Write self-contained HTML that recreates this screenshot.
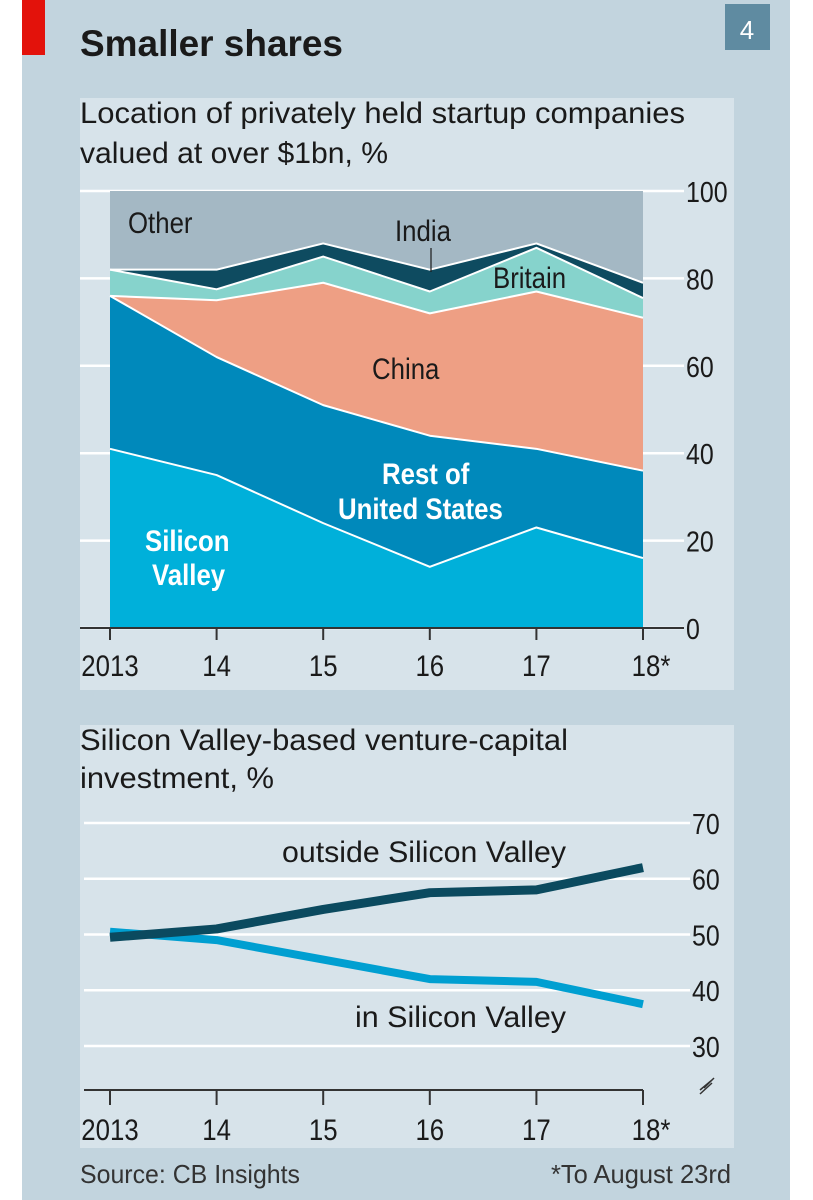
<!DOCTYPE html>
<html><head><meta charset="utf-8"><style>
html,body{margin:0;padding:0;background:#fff;}
svg{display:block;font-family:"Liberation Sans",sans-serif;}
</style></head><body>
<svg id="chart" width="813" height="1200" viewBox="0 0 813 1200">
<rect x="22" y="0" width="768" height="1200" fill="#c2d4de"/>
<rect x="22" y="0" width="23" height="55" fill="#e3120b"/>
<text x="80" y="56" font-size="37" font-weight="bold" fill="#1a1a1a" textLength="263" lengthAdjust="spacingAndGlyphs">Smaller shares</text>
<rect x="725" y="4" width="45" height="46" fill="#5f8ba1"/>
<text x="747" y="39" font-size="26" fill="#fff" text-anchor="middle">4</text>
<rect x="80" y="98" width="654" height="592" fill="#d7e3ea"/>
<text x="80" y="123" font-size="30" fill="#1a1a1a" textLength="605" lengthAdjust="spacingAndGlyphs">Location of privately held startup companies</text>
<text x="80" y="163" font-size="30" fill="#1a1a1a" textLength="308" lengthAdjust="spacingAndGlyphs">valued at over $1bn, %</text>
<g id="topchart"></g>
<rect x="80" y="725" width="654" height="423" fill="#d7e3ea"/>
<text x="80" y="750" font-size="30" fill="#1a1a1a" textLength="488" lengthAdjust="spacingAndGlyphs">Silicon Valley-based venture-capital</text>
<text x="80" y="788" font-size="30" fill="#1a1a1a" textLength="194" lengthAdjust="spacingAndGlyphs">investment, %</text>
<g id="botchart"></g>
<text x="80" y="1183" font-size="26" fill="#333" textLength="220" lengthAdjust="spacingAndGlyphs">Source: CB Insights</text>
<text x="731" y="1183" font-size="26" fill="#333" text-anchor="end" textLength="180" lengthAdjust="spacingAndGlyphs">*To August 23rd</text>
</svg>
<script>
const years = ["2013","14","15","16","17","18*"];
const siliconValley = [41, 35, 24, 14, 23, 16];
const restOfUS = [35, 27, 27, 30, 18, 20];
const china = [0, 13, 28, 28, 36, 35];
const britain = [6, 2.5, 6, 5, 10, 4.5];
const india = [0, 4.5, 3, 5, 1, 3.5];
const topTicks = [0, 20, 40, 60, 80, 100];
const outsideSV = [49.5, 51, 54.5, 57.5, 58, 62];
const inSV = [50.5, 49, 45.5, 42, 41.5, 37.5];
const bottomTicks = [30, 40, 50, 60, 70];

const NS = "http://www.w3.org/2000/svg";
function mk(tag, attrs, parent, text){
  const e = document.createElementNS(NS, tag);
  for (const k in attrs) e.setAttribute(k, attrs[k]);
  if (text !== undefined) e.textContent = text;
  parent.appendChild(e);
  return e;
}
const xs = i => 110 + i * (643 - 110) / (years.length - 1);
const yTop = v => 628 - v * 4.37;
const yBot = v => 1046 - (v - 30) * (1046 - 823) / 40;
const narrow = (x) => 'translate(' + x + ',0) scale(0.86,1) translate(' + (-x) + ',0)';

// top chart
const topG = document.getElementById('topchart');
topTicks.forEach(t => {
  const l = mk('line', {x1: 80, x2: 684, y1: yTop(t), y2: yTop(t), stroke: '#fff', 'stroke-width': 2.5}, topG);
  
  
  const tx = mk('text', {x: 686, y: yTop(t) + 11, 'font-size': 29, fill: '#1a1a1a', transform: narrow(686)}, topG, String(t));
  
  
});
const layers = [siliconValley, restOfUS, china, britain, india];
const layerNames = ['silicon-valley', 'rest-of-us', 'china', 'britain', 'india', 'other'];
const colors = ['#00b0da', '#0089bb', '#ee9f84', '#86d3cc', '#0e4b60', '#a4b8c4'];
let base = years.map(() => 0);
const cum = [];
layers.forEach(arr => { const nb = base.map((b, i) => b + arr[i]); cum.push([base, nb]); base = nb; });
cum.push([base, years.map(() => 100)]);
cum.forEach((pair, k) => {
  const lo = pair[0], hi = pair[1];
  let d = hi.map((v, i) => (i ? 'L' : 'M') + xs(i) + ',' + yTop(v)).join('');
  for (let i = lo.length - 1; i >= 0; i--) d += 'L' + xs(i) + ',' + yTop(lo[i]);
  const p = mk('path', {d: d + 'Z', fill: colors[k]}, topG);
  
  
});
cum.slice(0, 5).forEach((pair, k) => {
  const d = pair[1].map((v, i) => (i ? 'L' : 'M') + xs(i) + ',' + yTop(v)).join('');
  const p = mk('path', {d: d, fill: 'none', stroke: '#fff', 'stroke-width': 2, 'stroke-linejoin': 'round'}, topG);
  
  
});
const ax = mk('line', {x1: 80, x2: 684, y1: 628, y2: 628, stroke: '#333', 'stroke-width': 2}, topG);


years.forEach((y, i) => {
  const t = mk('line', {x1: xs(i), x2: xs(i), y1: 628, y2: 640, stroke: '#333', 'stroke-width': 2}, topG);
  
  
  const cx = xs(i) + (i === 5 ? 8 : 0);
  const tx = mk('text', {x: cx, y: 676, 'font-size': 30, fill: '#1a1a1a', 'text-anchor': 'middle', transform: narrow(cx)}, topG, y);
  
  
});
const labels = [
  ['Other', 128, 233, '#1a1a1a', 'label-other'],
  ['India', 395, 241, '#1a1a1a', 'label-india'],
  ['Britain', 493, 288, '#1a1a1a', 'label-britain'],
  ['China', 372, 379, '#1a1a1a', 'label-china'],
  ['Rest of', 382, 484, '#fff', 'label-rest-of-us-1'],
  ['United States', 338, 519, '#fff', 'label-rest-of-us-2'],
  ['Silicon', 145, 551, '#fff', 'label-silicon-valley-1'],
  ['Valley', 152, 585, '#fff', 'label-silicon-valley-2']
];
labels.forEach(l => {
  const t = mk('text', {x: l[1], y: l[2], 'font-size': 30, fill: l[3], transform: narrow(l[1])}, topG, l[0]);
  if (l[3] === '#fff') t.setAttribute('font-weight', 'bold');
  
  
});
const il = mk('line', {x1: 431, x2: 431, y1: 248, y2: 272, stroke: '#1a1a1a', 'stroke-width': 1.2}, topG);



// bottom chart
const botG = document.getElementById('botchart');
bottomTicks.forEach(t => {
  const l = mk('line', {x1: 84, x2: 690, y1: yBot(t), y2: yBot(t), stroke: '#fff', 'stroke-width': 2.5}, botG);
  
  
  const tx = mk('text', {x: 692, y: yBot(t) + 11, 'font-size': 29, fill: '#1a1a1a', transform: narrow(692)}, botG, String(t));
  
  
});
const bax = mk('line', {x1: 84, x2: 643, y1: 1090, y2: 1090, stroke: '#333', 'stroke-width': 2}, botG);


const brk = mk('path', {d: 'M700,1090 L712,1080 L704,1088 L714,1078 M700,1094 L712,1083', fill: 'none', stroke: '#333', 'stroke-width': 1.5}, botG);


years.forEach((y, i) => {
  const t = mk('line', {x1: xs(i), x2: xs(i), y1: 1090, y2: 1105, stroke: '#333', 'stroke-width': 2}, botG);
  
  
  const cx = xs(i) + (i === 5 ? 8 : 0);
  const tx = mk('text', {x: cx, y: 1140, 'font-size': 30, fill: '#1a1a1a', 'text-anchor': 'middle', transform: narrow(cx)}, botG, y);
  
  
});
const inPts = inSV.map((v, i) => xs(i) + ',' + yBot(v)).join(' ');
const inLine = mk('polyline', {points: inPts, fill: 'none', stroke: '#009fd1', 'stroke-width': 8, 'stroke-linejoin': 'round'}, botG);


const outPts = outsideSV.map((v, i) => xs(i) + ',' + yBot(v)).join(' ');
const outLine = mk('polyline', {points: outPts, fill: 'none', stroke: '#0b4a5f', 'stroke-width': 9, 'stroke-linejoin': 'round'}, botG);


const l1 = mk('text', {x: 282, y: 862, 'font-size': 30, fill: '#1a1a1a', textLength: 284, lengthAdjust: 'spacingAndGlyphs'}, botG, 'outside Silicon Valley');


const l2 = mk('text', {x: 355, y: 1027, 'font-size': 30, fill: '#1a1a1a', textLength: 211, lengthAdjust: 'spacingAndGlyphs'}, botG, 'in Silicon Valley');


</script>
</body></html>
